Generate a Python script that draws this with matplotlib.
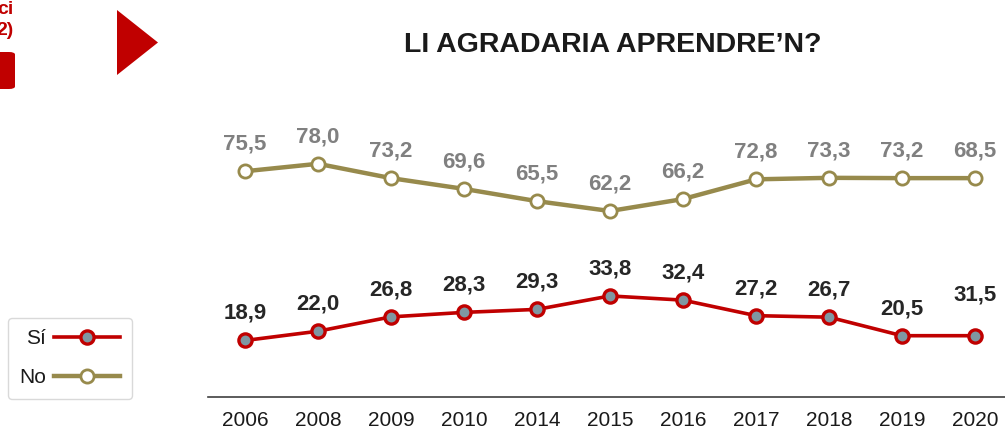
import matplotlib
matplotlib.use("Agg")
import matplotlib.pyplot as plt
from matplotlib.patches import Polygon, FancyBboxPatch

plt.rcParams['font.family'] = ['Liberation Sans', 'DejaVu Sans']

years = ["2006", "2008", "2009", "2010", "2014", "2015", "2016", "2017", "2018", "2019", "2020"]
# plotted positions as drawn in the reference
si_values = [18.9, 22.0, 26.8, 28.3, 29.3, 33.8, 32.4, 27.2, 26.7, 20.5, 20.5]
no_values = [75.5, 78.0, 73.2, 69.6, 65.5, 62.2, 66.2, 72.8, 73.3, 73.2, 73.2]
# printed labels
si_labels = ["18,9", "22,0", "26,8", "28,3", "29,3", "33,8", "32,4", "27,2", "26,7", "20,5", "31,5"]
no_labels = ["75,5", "78,0", "73,2", "69,6", "65,5", "62,2", "66,2", "72,8", "73,3", "73,2", "68,5"]
title = "LI AGRADARIA APRENDRE\u2019N?"

RED = "#C00000"
OLIVE = "#978A4C"
GRAY_LBL = "#808080"
DARK_LBL = "#262626"

W, H = 1005, 433
fig = plt.figure(figsize=(W / 100, H / 100), dpi=100)
fig.patch.set_facecolor("white")

ax = fig.add_axes([208 / W, (H - 397) / H, 797 / W, 299 / H])
x = list(range(len(years)))

l_si, = ax.plot(x, si_values, color=RED, lw=2.6, marker="o", ms=9.5,
                mfc="#7F97A2", mec=RED, mew=2.4, zorder=3, label="Sí")
l_no, = ax.plot(x, no_values, color=OLIVE, lw=3.2, marker="o", ms=9.5,
                mfc="white", mec=OLIVE, mew=2.0, zorder=3, label="No")

for i, (v, t) in enumerate(zip(no_values, no_labels)):
    ax.annotate(t, (i, v), xytext=(0, 12), textcoords="offset points",
                ha="center", va="bottom", fontsize=16, fontweight="bold", color=GRAY_LBL)
for i, (v, t) in enumerate(zip(si_values, si_labels)):
    dy = 12 if i < len(si_values) - 1 else 22
    ax.annotate(t, (i, v), xytext=(0, dy), textcoords="offset points",
                ha="center", va="bottom", fontsize=16, fontweight="bold", color=DARK_LBL)

ax.set_xlim(-37 / 73, 10 + 30 / 73)
ax.set_ylim(0, 100)
ax.set_xticks(x)
ax.set_xticklabels(years, fontsize=15, color="#1a1a1a")
ax.set_yticks([])
ax.tick_params(axis="x", length=0, pad=10)
for s in ["top", "right", "left"]:
    ax.spines[s].set_visible(False)
ax.spines["bottom"].set_color("#404040")
ax.spines["bottom"].set_linewidth(1.2)
ax.patch.set_alpha(0)

# title
fig.text(613 / W, 1 - 45 / H, title, ha="center", va="center",
         fontsize=20.5, fontweight="bold", color="#1a1a1a")

# decorations (top-left; the reference shows these cropped at the edge)
tri = Polygon([[117 / W, 1 - 10 / H], [117 / W, 1 - 75 / H], [158 / W, 1 - 42.5 / H]],
              closed=True, transform=fig.transFigure, color=RED, lw=0)
fig.patches.append(tri)
rect = FancyBboxPatch((-10 / W, 1 - 89 / H), 25 / W, 37 / H,
                      boxstyle="round,pad=0,rounding_size=0.006",
                      transform=fig.transFigure, color=RED, lw=0)
fig.patches.append(rect)
fig.text(13 / W, 1 - 14 / H, "ci", ha="right", va="baseline",
         fontsize=14, fontweight="bold", color=RED)
fig.text(14 / W, 1 - 35 / H, "2)", ha="right", va="baseline",
         fontsize=14, fontweight="bold", color=RED)

# legend
leg = fig.legend(handles=[l_si, l_no], loc="upper left",
                 bbox_to_anchor=(8 / W, 1 - 318 / H), bbox_transform=fig.transFigure,
                 fontsize=15, markerfirst=False, numpoints=1, handlelength=3.2,
                 handletextpad=0.35, labelspacing=0.95, borderpad=0.55,
                 borderaxespad=0, frameon=True, fancybox=True, edgecolor="#D0D0D0",
                 labelcolor="#1a1a1a")
leg.get_frame().set_linewidth(1.0)

fig.savefig("out.png", dpi=100)
